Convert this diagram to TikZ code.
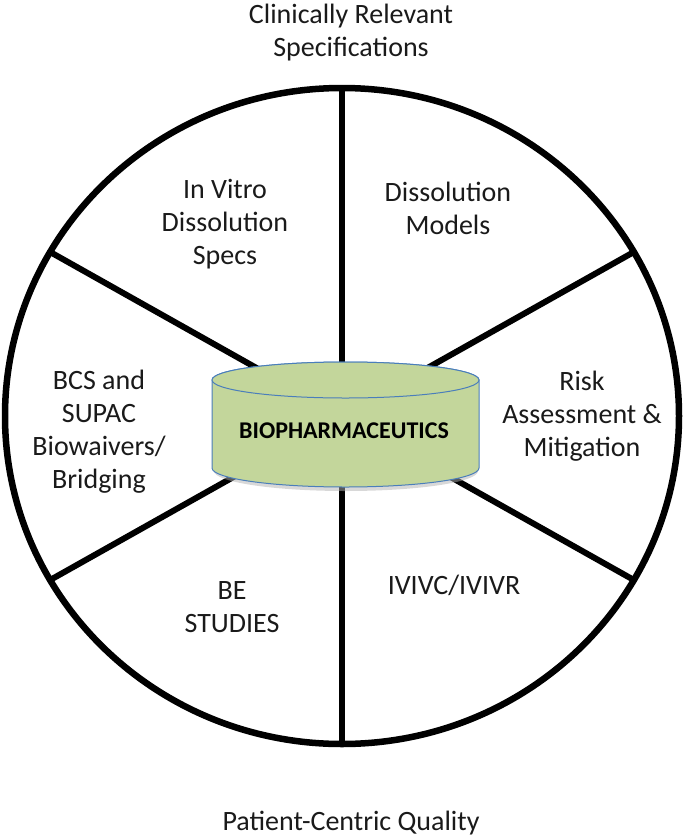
\documentclass[tikz,border=0pt]{standalone}
\usepackage{fontspec}
\setmainfont{Carlito}
\usetikzlibrary{calc}
\definecolor{cylfill}{HTML}{C3D69B}
\definecolor{cylline}{HTML}{4A7EBB}
\definecolor{txt}{HTML}{1A1A1A}
\begin{document}
\begin{tikzpicture}[x=1pt, y=-1pt, line join=round, line cap=round]
	\tikzset{rim/.style={line width=6.5pt},
		spoke/.style={line width=6pt},
		lbl/.style={align=center, text=txt, inner sep=0pt, font=\fontsize{28}{33}\selectfont},
		cyl/.style={fill=cylfill, draw=cylline, line width=1pt}}
	\useasboundingbox (0,0) rectangle (685,836);
	% wheel
	\coordinate (hub) at (342,416);
	\foreach \a in {30,90,...,330}
		\coordinate (r\a) at ($(hub)+(\a:337 and 328)$);
	\foreach \a in {30,90,...,330}
		\draw[spoke] (hub) -- (r\a);
	\draw[rim] (hub) ellipse [x radius=337, y radius=328];
	% cylinder
	\fill[black!30, opacity=0.5] (214,384) -- (214,471) arc[start angle=180, end angle=0, x radius=132, y radius=20] -- (478,384) -- cycle;
	\draw[cyl] (212,380) -- (212,468) arc[start angle=180, end angle=0, x radius=133.5, y radius=19]
		-- (479,380) arc[start angle=0, end angle=-180, x radius=133.5, y radius=18] -- cycle;
	\draw[cyl] (345.5,380) ellipse [x radius=133.5, y radius=18];
	\node[lbl, font=\fontsize{24}{28}\selectfont\bfseries, text=black] (bio) at (344,431) {BIOPHARMACEUTICS};
	% labels
	\node[lbl] (crs) at (351,33) {Clinically Relevant\\Specifications};
	\node[lbl] (ivd) at (225,224) {In Vitro\\Dissolution\\Specs};
	\node[lbl] (dm) at (448,208) {Dissolution\\Models};
	\node[lbl] (bcs) at (99,432) {BCS and\\SUPAC\\Biowaivers/\\Bridging};
	\node[lbl] (risk) at (582,416) {Risk\\Assessment \&\\Mitigation};
	\node[lbl] (be) at (232,607) {BE\\STUDIES};
	\node[lbl] (ivivc) at (454,585) {IVIVC/IVIVR};
	\node[lbl] (pcq) at (351,823) {Patient-Centric Quality};
\end{tikzpicture}
\end{document}
